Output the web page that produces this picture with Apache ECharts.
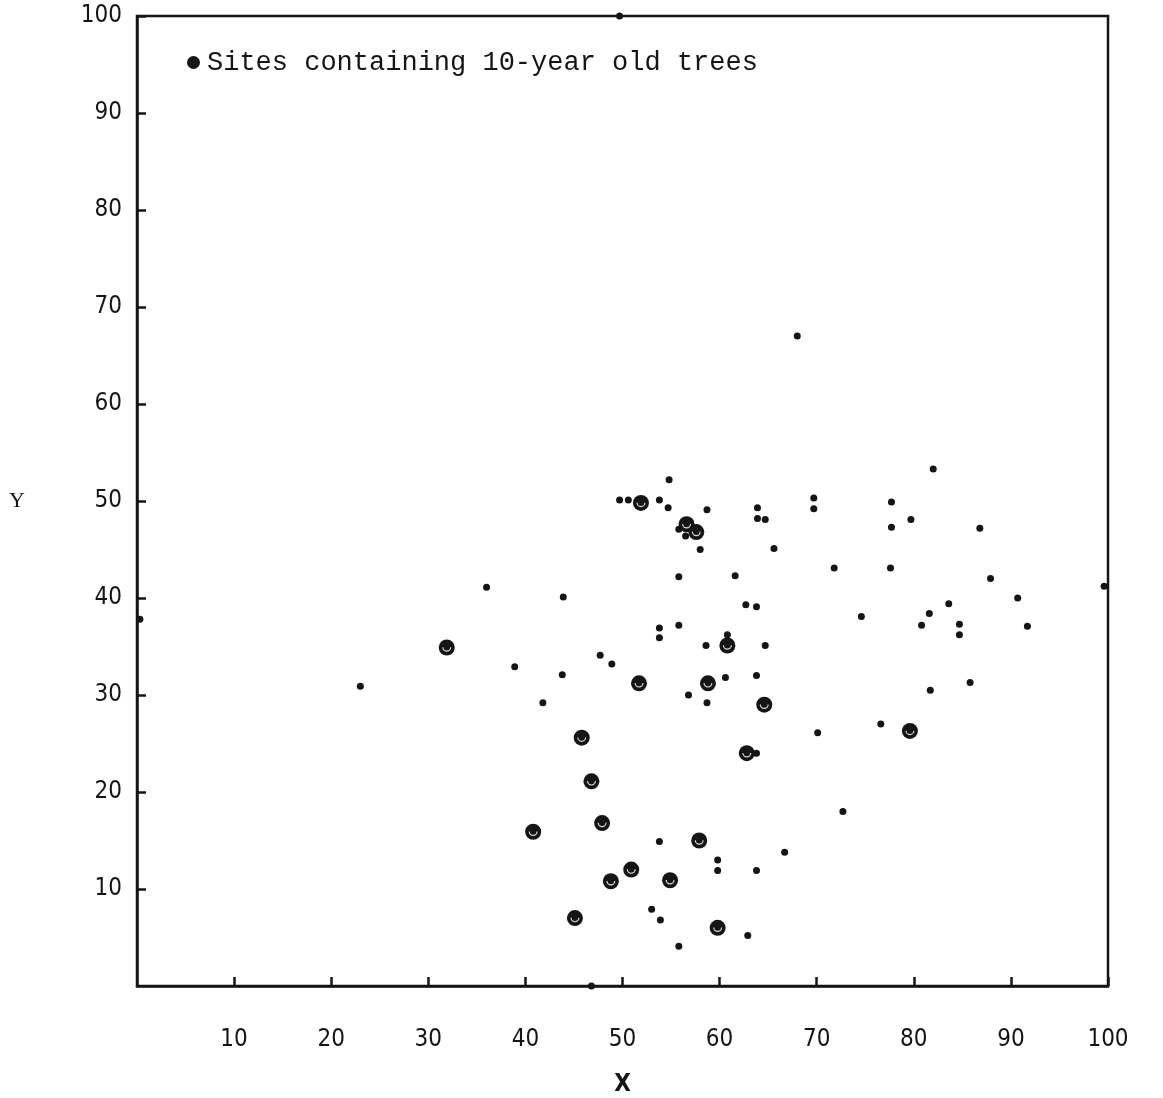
<!DOCTYPE html>
<html>
<head>
<meta charset="utf-8">
<script src="https://cdn.jsdelivr.net/npm/echarts@6/dist/echarts.min.js"></script>
<style>html,body{margin:0;padding:0;background:#fff;}#c{width:1163px;height:1098px;}</style>
</head>
<body>
<div id="c"></div>
<script>
// Small dots: sites
var smallX = [68, 82, 54.8, 49.7, 50.6, 53.8, 54.7, 58.7, 55.8, 56.5, 58.0, 63.9, 63.9, 64.7, 65.6, 69.7, 69.7, 77.7, 79.7, 77.7, 86.8, 71.8, 77.6, 87.9, 90.7, 83.6, 91.7, 74.6, 81.6, 80.8, 84.7, 84.7, 85.8, 81.7, 76.6, 70.1, 72.7, 66.7, 63.8, 59.8, 59.8, 53.8, 55.8, 61.6, 43.9, 36.0, 62.7, 63.8, 53.8, 55.8, 53.8, 60.8, 58.6, 64.7, 47.7, 48.9, 38.9, 43.8, 23.0, 41.8, 60.6, 63.8, 56.8, 58.7, 63.8, 53.0, 53.9, 62.9, 55.8, 46.8, 49.7, 0.3, 99.6];
var smallY = [67, 53.3, 52.2, 50.1, 50.1, 50.1, 49.3, 49.1, 47.1, 46.4, 45.0, 49.3, 48.2, 48.1, 45.1, 50.3, 49.2, 49.9, 48.1, 47.3, 47.2, 43.1, 43.1, 42.0, 40.0, 39.4, 37.1, 38.1, 38.4, 37.2, 37.3, 36.2, 31.3, 30.5, 27.0, 26.1, 18.0, 13.8, 11.9, 13.0, 11.9, 14.9, 42.2, 42.3, 40.1, 41.1, 39.3, 39.1, 36.9, 37.2, 35.9, 36.2, 35.1, 35.1, 34.1, 33.2, 32.9, 32.1, 30.9, 29.2, 31.8, 32.0, 30.0, 29.2, 24.0, 7.9, 6.8, 5.2, 4.1, 0, 100, 37.8, 41.2];
// Large ringed dots: sites containing 10-year old trees
var treeX = [51.9, 56.6, 57.6, 31.9, 60.8, 51.7, 58.8, 64.6, 79.6, 45.8, 62.8, 46.8, 47.9, 40.8, 57.9, 50.9, 48.8, 54.9, 45.1, 59.8];
var treeY = [49.8, 47.6, 46.8, 34.9, 35.1, 31.2, 31.2, 29.0, 26.3, 25.6, 24.0, 21.1, 16.8, 15.9, 15.0, 12.0, 10.8, 10.9, 7.0, 6.0];
var legendName = 'Sites containing 10-year old trees';
var tickValues = [10, 20, 30, 40, 50, 60, 70, 80, 90, 100];

function pairs(xs, ys) { return xs.map(function (x, i) { return [x, ys[i]]; }); }

var ink = '#151515';
var labelFont = {color: ink, fontSize: 24, fontFamily: 'DejaVu Sans Condensed, DejaVu Sans, sans-serif'};

var chart = echarts.init(document.getElementById('c'), null, {renderer: 'canvas'});
chart.setOption({
  animation: false,
  backgroundColor: '#fff',
  grid: {left: 137, right: 55, top: 16, bottom: 112, containLabel: false, outerBoundsMode: 'none', show: true, borderColor: ink, borderWidth: 2.5, backgroundColor: 'transparent'},
  legend: {
    data: [{name: legendName, icon: 'circle', itemStyle: {color: ink, opacity: 1}}],
    left: 182, top: 44, itemWidth: 13, itemHeight: 13, itemGap: 10,
    textStyle: {color: ink, fontSize: 27, fontFamily: 'Liberation Mono, DejaVu Sans Mono, monospace', padding: [0, 0, 0, 2]},
    selectedMode: false
  },
  xAxis: {
    type: 'value', min: 0, max: 100, interval: 10,
    name: 'X', nameLocation: 'middle', nameGap: 87,
    nameTextStyle: {color: ink, fontSize: 24, fontFamily: 'DejaVu Sans Condensed, DejaVu Sans, sans-serif', fontWeight: 'bold'},
    axisLine: {show: true, lineStyle: {color: ink, width: 2.5}},
    axisTick: {show: true, inside: true, length: 9, lineStyle: {color: ink, width: 2.5}},
    axisLabel: Object.assign({margin: 42, showMinLabel: false, formatter: function (v) { return tickValues.indexOf(v) >= 0 ? String(v) : ''; }}, labelFont),
    splitLine: {show: false}
  },
  yAxis: {
    type: 'value', min: 0, max: 100, interval: 10,
    name: 'Y', nameLocation: 'middle', nameGap: 112, nameRotate: 0,
    nameTextStyle: {color: ink, fontSize: 22, fontFamily: 'Liberation Serif, serif'},
    axisLine: {show: true, lineStyle: {color: ink, width: 2.5}},
    axisTick: {show: true, inside: true, length: 9, lineStyle: {color: ink, width: 2.5}},
    axisLabel: Object.assign({margin: 15, showMinLabel: false, formatter: function (v) { return tickValues.indexOf(v) >= 0 ? String(v) : ''; }}, labelFont),
    splitLine: {show: false}
  },
  series: [
    {
      name: 'sites', type: 'scatter', symbol: 'circle', symbolSize: 7,
      itemStyle: {color: ink, opacity: 1}, clip: true, silent: true,
      data: pairs(smallX, smallY)
    },
    {
      name: legendName, type: 'scatter', symbol: 'circle', symbolSize: 16,
      itemStyle: {color: ink, opacity: 1}, clip: true,
      data: pairs(treeX, treeY)
    },
    {
      name: 'ring', type: 'scatter', silent: true, clip: true,
      symbol: 'path://M -3 0 A 3 3 0 0 0 3 0 L 2.2 0 A 2.2 2.2 0 0 1 -2.2 0 Z',
      symbolSize: [9, 4.5], symbolOffset: [0, 2],
      itemStyle: {color: '#d8d8d8', opacity: 1},
      data: pairs(treeX, treeY)
    }
  ]
});
</script>
</body>
</html>
